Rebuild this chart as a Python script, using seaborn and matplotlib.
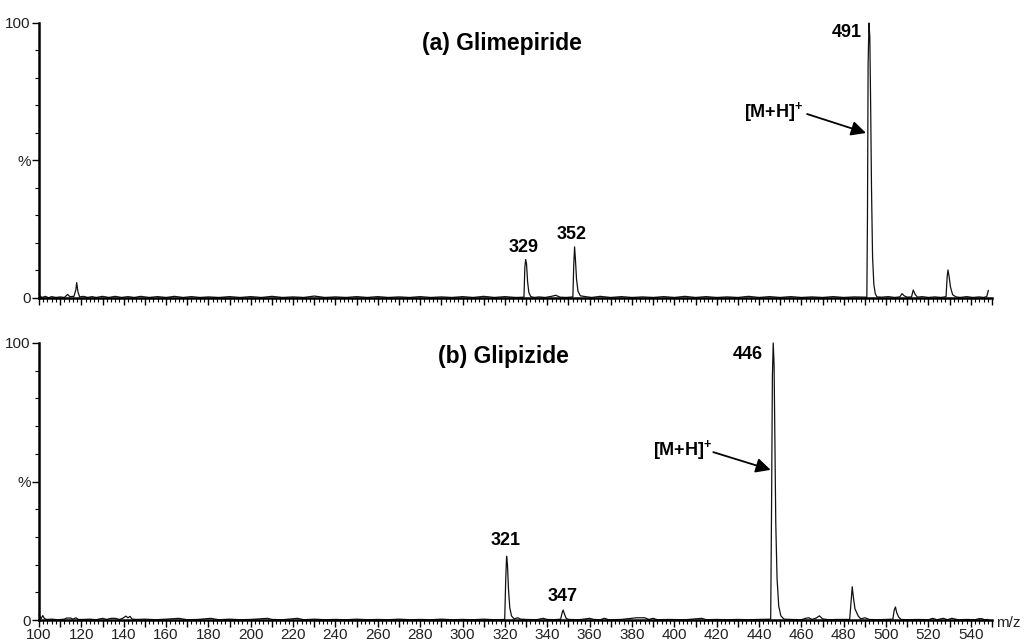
import numpy as np
import pandas as pd
import seaborn as sns
import matplotlib.pyplot as plt
from matplotlib.ticker import MultipleLocator, FixedLocator, FuncFormatter

# Spectrum (a) Glimepiride: (m/z, relative intensity %)
spec_a = [(100, 1.5), (100.6, 0.6), (101.5, 0.2), (103, 0.6), (104.5, 0.1), (106, 0.5),
          (108, 0.2), (110, 0.4), (112, 0.2), (113.5, 1.3), (114.5, 0.5), (116.5, 0.6),
          (117.4, 3.0), (117.8, 5.6), (118.4, 2.2), (119.2, 0.4), (121, 0.6), (123, 0.2),
          (125, 0.5), (127, 0.2), (130, 0.6), (133, 0.2), (136, 0.6), (139, 0.2), (142, 0.5),
          (145, 0.2), (148, 0.6), (152, 0.2), (156, 0.5), (160, 0.2), (164, 0.6), (168, 0.2),
          (172, 0.5), (176, 0.2), (180, 0.4), (185, 0.2), (190, 0.5), (195, 0.2), (200, 0.5),
          (205, 0.2), (210, 0.6), (215, 0.2), (220, 0.4), (225, 0.2), (230, 0.7), (235, 0.2),
          (240, 0.4), (245, 0.2), (250, 0.5), (255, 0.2), (260, 0.5), (265, 0.2), (270, 0.4),
          (275, 0.2), (280, 0.5), (285, 0.2), (290, 0.4), (295, 0.2), (300, 0.5), (305, 0.2),
          (310, 0.6), (315, 0.2), (320, 0.5), (325, 0.2),
          (329.0, 0.3), (329.4, 11.0), (329.8, 14.0), (330.2, 12.5), (330.7, 6.0), (331.3, 2.0),
          (332.2, 0.5), (334, 0.2), (336, 0.4), (339, 0.2), (342, 0.6), (344, 1.0), (346, 0.3),
          (349, 0.2), (352.1, 0.4), (352.5, 12.0), (352.9, 18.6), (353.3, 14.0), (353.8, 7.0),
          (354.5, 2.5), (355.6, 0.8), (358, 0.5), (361, 0.2), (365, 0.6), (370, 0.2), (375, 0.5),
          (380, 0.2), (385, 0.4), (390, 0.2), (395, 0.5), (400, 0.2), (405, 0.6), (410, 0.2),
          (415, 0.5), (420, 0.2), (425, 0.4), (430, 0.2), (435, 0.6), (440, 0.2), (445, 0.5),
          (450, 0.2), (455, 0.5), (460, 0.2), (465, 0.4), (470, 0.2), (475, 0.5), (480, 0.2),
          (485, 0.4), (490.9, 0.3), (491.2, 30), (491.5, 85), (491.9, 100), (492.3, 95),
          (492.7, 70), (493.1, 40), (493.6, 15), (494.2, 5), (494.9, 1.5), (495.7, 0.4),
          (498, 0.3), (501, 0.5), (504, 0.2), (506.5, 0.4), (507.5, 1.6), (508.5, 0.8),
          (510, 0.3), (512, 0.4), (512.8, 2.9), (513.8, 1.2), (514.8, 0.3), (517, 0.5),
          (520, 0.2), (523, 0.4), (526, 0.2), (528.3, 0.5), (528.8, 7.5), (529.2, 10.2),
          (529.7, 8.0), (530.4, 4.0), (531.4, 1.2), (533, 0.4), (535, 0.2), (538, 0.5),
          (541, 0.2), (544, 0.4), (546, 0.2), (547.5, 0.5), (548.3, 2.8)]

# Spectrum (b) Glipizide
spec_b = [(100, 2.0), (100.5, 1.2), (101, 0.5), (101.8, 1.6), (102.5, 0.6), (103.5, 0.2),
          (106, 0.3), (109, 0.1), (112, 0.3), (113, 0.7), (115, 0.7), (116, 0.3),
          (117.5, 0.8), (118.5, 0.2), (121, 0.2), (124, 0.3), (127, 0.1), (130, 0.6),
          (132, 0.2), (134, 0.6), (136, 0.6), (138, 0.2), (139.5, 0.6), (141, 1.4), (142, 0.8),
          (143, 1.3), (144, 0.3), (146, 0.2), (150, 0.3), (155, 0.1), (160, 0.3), (166, 0.6),
          (170, 0.1), (175, 0.2), (181, 0.6), (185, 0.1), (190, 0.3), (195, 0.1), (200, 0.2),
          (208, 0.6), (210, 0.2), (215, 0.1), (222, 0.6), (225, 0.1), (230, 0.3), (235, 0.1),
          (240, 0.2), (245, 0.1), (250, 0.3), (255, 0.1), (260, 0.2), (265, 0.1), (270, 0.3),
          (275, 0.1), (280, 0.2), (285, 0.1), (290, 0.3), (295, 0.1), (300, 0.2), (305, 0.1),
          (310, 0.3), (315, 0.1), (319.9, 0.2), (320.4, 15), (320.8, 23), (321.2, 20),
          (321.7, 11), (322.3, 4.5), (323.1, 1.5), (324.3, 0.4), (326, 0.8), (327.5, 0.3),
          (330, 0.2), (335, 0.1), (338, 0.6), (340, 0.2), (343, 0.1), (346.3, 0.3),
          (347.0, 2.5), (347.5, 3.6), (348.1, 2.2), (348.9, 0.6), (350, 0.2), (355, 0.1),
          (360, 0.6), (362, 0.2), (365, 0.1), (367, 0.6), (369, 0.1), (375, 0.2), (382, 0.8),
          (386, 0.8), (388, 0.2), (390, 0.6), (392, 0.1), (397, 0.2), (405, 0.1), (413, 0.6),
          (415, 0.1), (420, 0.2), (425, 0.1), (430, 0.2), (435, 0.1), (440, 0.2),
          (445.5, 0.3), (445.9, 40), (446.3, 88), (446.7, 100), (447.1, 92), (447.5, 65),
          (447.9, 35), (448.5, 15), (449.3, 5), (450.3, 1.5), (451.8, 0.3), (455, 0.2),
          (460, 0.1), (462, 0.6), (463.5, 0.8), (465, 0.2), (467, 0.7), (468.5, 1.5),
          (470, 0.4), (473, 0.1), (477, 0.2), (482.8, 0.2), (483.5, 7), (484.0, 12),
          (484.5, 8.5), (485.3, 4.0), (486.8, 1.5), (488, 0.4), (490, 0.8), (492, 0.2),
          (496, 0.1), (500, 0.2), (503.2, 0.3), (503.8, 3.5), (504.4, 4.7), (505.0, 2.7),
          (505.9, 1.1), (507, 0.2), (510, 0.1), (515, 0.2), (520, 0.1), (522, 0.6), (524, 0.1),
          (527, 0.6), (529, 0.1), (531, 0.6), (534, 0.1), (538, 0.2), (542, 0.1), (544, 0.5),
          (545, 0.5), (546.5, 0.1), (548, 0.2)]

titles = ['(a) Glimepiride', '(b) Glipizide']
peak_labels_a = [('329', 328.7, 15.3), ('352', 351.6, 20.0), ('491', 488.6, 96.7)]
peak_labels_b = [('321', 320.5, 25.5), ('347', 347.3, 5.5), ('446', 441.8, 95.7)]
ion_label = r'[M+H]$^{\mathbf{+}}$'

sns.set_style('ticks')
plt.rcParams['font.family'] = ['Liberation Sans', 'DejaVu Sans']
plt.rcParams['text.color'] = 'black'
plt.rcParams['mathtext.fontset'] = 'custom'
plt.rcParams['mathtext.bf'] = 'Liberation Sans:bold'
plt.rcParams['mathtext.rm'] = 'Liberation Sans'

fig = plt.figure(figsize=(10.24, 6.44), dpi=100)
W, H = 1024, 644
ax_a = fig.add_axes([39 / W, 1 - 298 / H, 953 / W, 275 / H])
ax_b = fig.add_axes([39 / W, 1 - 620 / H, 953 / W, 277 / H])

df_a = pd.DataFrame(spec_a, columns=['mz', 'intensity'])
df_b = pd.DataFrame(spec_b, columns=['mz', 'intensity'])

for ax, df in [(ax_a, df_a), (ax_b, df_b)]:
    sns.lineplot(data=df, x='mz', y='intensity', ax=ax, color='#111111',
                 linewidth=0.9, estimator=None, sort=False, clip_on=False)
    ax.set_xlim(100, 550)
    ax.set_ylim(0, 100)
    ax.set_xlabel('')
    ax.set_ylabel('')
    sns.despine(ax=ax)
    ax.spines['left'].set_linewidth(1.8)
    ax.spines['bottom'].set_linewidth(1.8)
    ax.spines['left'].set_color('black')
    ax.spines['bottom'].set_color('black')
    ax.yaxis.set_major_locator(FixedLocator([0, 50, 100]))
    ax.yaxis.set_minor_locator(MultipleLocator(10))
    ax.set_yticklabels(['0', '%', '100'])
    ax.xaxis.set_major_locator(MultipleLocator(10))
    ax.xaxis.set_minor_locator(MultipleLocator(2))
    ax.tick_params(axis='both', which='major', length=5, width=1, color='black',
                   labelsize=11, labelcolor='#222222', pad=1)
    ax.tick_params(axis='both', which='minor', length=3, width=0.8, color='black')

ax_a.tick_params(axis='x', labelbottom=False)
ax_b.xaxis.set_major_formatter(FuncFormatter(lambda v, p: '%d' % v if int(round(v)) % 20 == 0 else ''))

# titles
ax_a.text(318.6, 92.7, titles[0], ha='center', va='center', fontsize=16.5, fontweight='bold')
ax_b.text(319.5, 95.0, titles[1], ha='center', va='center', fontsize=16.5, fontweight='bold')

# peak labels
for txt, x, y in peak_labels_a:
    ha = 'right' if txt == '491' else 'center'
    va = 'center' if txt == '491' else 'bottom'
    ax_a.text(x, y, txt, ha=ha, va=va, fontsize=13, fontweight='bold')
for txt, x, y in peak_labels_b:
    ha = 'right' if txt == '446' else 'center'
    va = 'center' if txt == '446' else 'bottom'
    ax_b.text(x, y, txt, ha=ha, va=va, fontsize=13, fontweight='bold')

# [M+H]+ arrows
arrow = dict(arrowstyle='-|>', mutation_scale=22, lw=1.3, color='black',
             shrinkA=0, shrinkB=0)
ax_a.text(461, 67.6, ion_label, ha='right', va='center', fontsize=13, fontweight='bold')
ax_a.annotate('', xy=(490.5, 60), xytext=(462.7, 66.9), arrowprops=arrow)
ax_b.text(418, 61.4, ion_label, ha='right', va='center', fontsize=13, fontweight='bold')
ax_b.annotate('', xy=(445.5, 54.2), xytext=(418.4, 60.6), arrowprops=arrow)

fig.text(996 / W, 1 - 623 / H, 'm/z', ha='left', va='center', fontsize=11, color='#222222')

fig.savefig('out.png', dpi=100)
